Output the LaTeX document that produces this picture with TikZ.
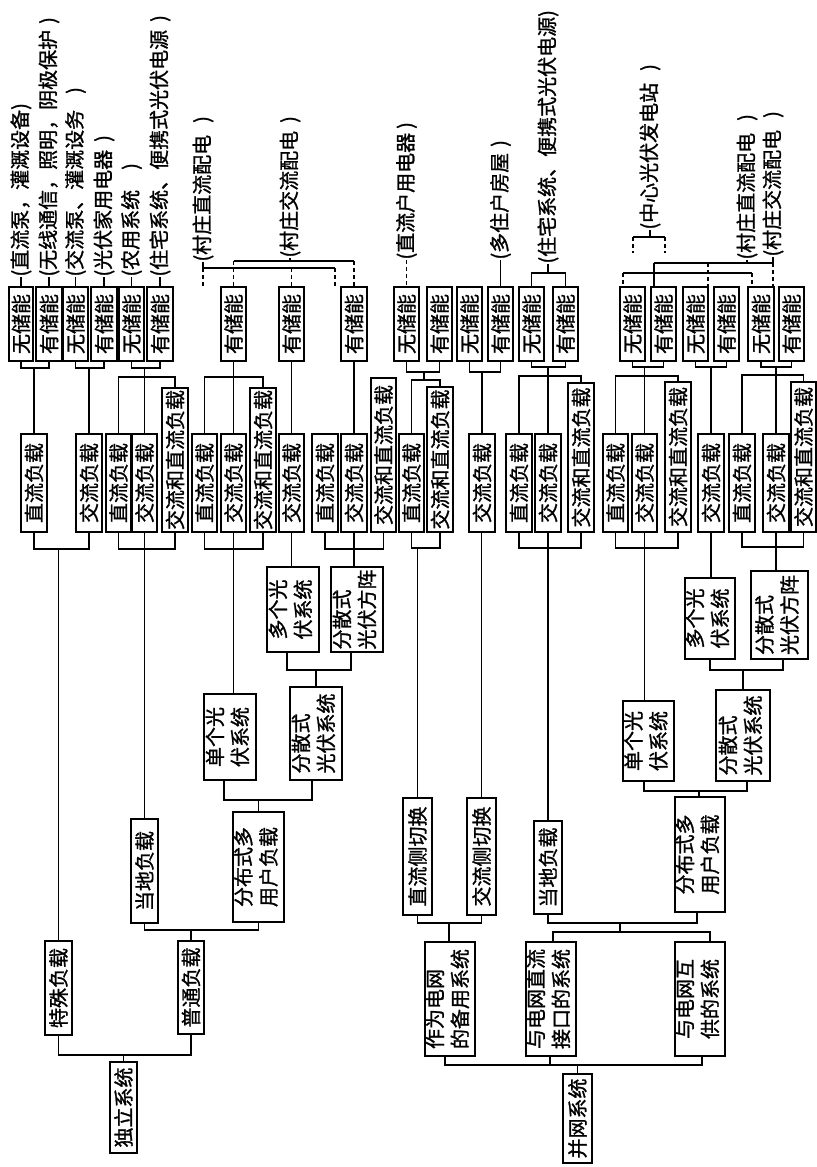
\documentclass[tikz,border=0pt]{standalone}
\usepackage{fontspec}
\setmainfont{Noto Sans CJK SC}[FakeBold=1.2]
\usepackage{graphicx}
\tikzset{
  bx/.style={draw, line width=1pt, inner sep=0pt, outer sep=0pt, fill=white, font=\fontsize{10}{12.5}\selectfont},
  lbl/.style={rotate=90, anchor=west, inner sep=0pt, font=\fontsize{10}{12.5}\selectfont},
  ln/.style={line width=0.85pt},
  dl/.style={line width=0.85pt, dash pattern=on 2pt off 1.5pt},
}
\newcommand\Bx[6]{%
  \pgfmathsetmacro\bxw{(#3-#2)*0.5}%
  \pgfmathsetmacro\bxh{(#5-#4)*0.5}%
  \node[bx, minimum width=\bxw pt, minimum height=\bxh pt] (#1) at ({(#2+#3)/2},{(#4+#5)/2}) {\rotatebox{90}{#6}};}
\newcommand\Tl[2]{\begin{tabular}{@{}l@{}}#1\\#2\end{tabular}}
\begin{document}
\begin{tikzpicture}[x=0.5pt, y=-0.5pt]
\fill[white] (0,0) rectangle (817,1167);
\useasboundingbox (0,0) rectangle (817,1167);

% ---------- top row: storage boxes ----------
\Bx{T1}{9}{33}{287}{361}{无储能}
\Bx{T2}{36}{62}{287}{361}{有储能}
\Bx{T3}{63}{88}{287}{361}{无储能}
\Bx{T4}{91}{117}{287}{361}{有储能}
\Bx{T5}{119}{144}{287}{361}{无储能}
\Bx{T6}{147}{173}{287}{361}{有储能}
\Bx{T7}{221}{246}{287}{361}{有储能}
\Bx{T8}{279}{304}{287}{361}{有储能}
\Bx{T9}{341}{367}{287}{361}{有储能}
\Bx{T10}{394}{419}{287}{361}{无储能}
\Bx{T11}{427}{452}{287}{361}{有储能}
\Bx{T12}{457}{482}{287}{361}{无储能}
\Bx{T13}{488}{513}{287}{361}{有储能}
\Bx{T14}{519}{544}{287}{361}{无储能}
\Bx{T15}{553}{578}{287}{361}{有储能}
\Bx{T16}{620}{645}{287}{361}{无储能}
\Bx{T17}{651}{676}{287}{361}{有储能}
\Bx{T18}{683}{708}{287}{361}{无储能}
\Bx{T19}{714}{739}{287}{361}{有储能}
\Bx{T20}{748}{774}{287}{361}{无储能}
\Bx{T21}{779}{804}{287}{361}{有储能}

% ---------- load row ----------
\Bx{M1}{21}{47}{434}{532}{直流负载}
\Bx{M2}{76}{102}{434}{532}{交流负载}
\Bx{M3}{106}{131}{434}{532}{直流负载}
\Bx{M4}{132}{157}{434}{532}{交流负载}
\Bx{M5}{162}{188}{388}{532}{交流和直流负载}
\Bx{M6}{192}{217}{434}{532}{直流负载}
\Bx{M7}{221}{246}{434}{532}{交流负载}
\Bx{M8}{250}{276}{388}{532}{交流和直流负载}
\Bx{M9}{279}{304}{434}{532}{交流负载}
\Bx{M10}{312}{338}{434}{532}{直流负载}
\Bx{M11}{341}{367}{434}{532}{交流负载}
\Bx{M12}{371}{396}{378}{532}{交流和直流负载}
\Bx{M13}{399}{424}{434}{532}{直流负载}
\Bx{M14}{427}{453}{387}{532}{交流和直流负载}
\Bx{M15}{469}{495}{434}{532}{交流负载}
\Bx{M16}{506}{532}{434}{532}{直流负载}
\Bx{M17}{535}{561}{434}{532}{交流负载}
\Bx{M18}{568}{594}{383}{532}{交流和直流负载}
\Bx{M19}{603}{628}{434}{532}{直流负载}
\Bx{M20}{632}{657}{434}{532}{交流负载}
\Bx{M21}{665}{691}{382}{532}{交流和直流负载}
\Bx{M22}{698}{724}{434}{532}{交流负载}
\Bx{M23}{729}{755}{434}{532}{直流负载}
\Bx{M24}{763}{789}{434}{532}{交流负载}
\Bx{M25}{791}{816}{382}{532}{交流和直流负载}

% ---------- independent system ----------
\Bx{A1}{267}{319}{567}{652}{\Tl{多个光}{伏系统}}
\Bx{A2}{331}{383}{567}{652}{\Tl{分散式}{光伏方阵}}
\Bx{A3}{204}{256}{694}{780}{\Tl{单个光}{伏系统}}
\Bx{A4}{290}{342}{687}{780}{\Tl{分散式}{光伏系统}}
\Bx{A5}{131}{158}{819}{923}{当地负载}
\Bx{A6}{233}{284}{812}{922}{\Tl{分布式多}{用户负载}}
\Bx{A7}{45}{72}{941}{1035}{特殊负载}
\Bx{A8}{178}{204}{941}{1034}{普通负载}
\Bx{A9}{110}{137}{1062}{1153}{独立系统}

% ---------- grid-connected system ----------
\Bx{B1}{685}{735}{578}{659}{\Tl{多个光}{伏系统}}
\Bx{B2}{751}{808}{571}{659}{\Tl{分散式}{光伏方阵}}
\Bx{B3}{623}{674}{701}{781}{\Tl{单个光}{伏系统}}
\Bx{B4}{716}{770}{690}{781}{\Tl{分散式}{光伏系统}}
\Bx{B5}{403}{432}{798}{915}{直流侧切换}
\Bx{B6}{467}{496}{798}{915}{交流侧切换}
\Bx{B7}{534}{562}{821}{914}{当地负载}
\Bx{B8}{675}{725}{797}{912}{\Tl{分布式多}{用户负载}}
\Bx{B9}{425}{475}{942}{1056}{\Tl{作为电网}{的备用系统}}
\Bx{B10}{526}{576}{942}{1056}{\Tl{与电网直流}{接口的系统}}
\Bx{B11}{675}{725}{942}{1056}{\Tl{与电网互}{供的系统}}
\Bx{B12}{563}{592}{1074}{1163}{并网系统}

% ---------- leaf labels ----------
\node[lbl] (L1) at (21,277) {(直流泵，灌溉设备)};
\node[lbl] (L2) at (49,277) {(无线通信，照明，阴极保护\hspace{3pt})};
\node[lbl] (L3) at (75.5,277) {(交流泵、灌溉设务\hspace{8pt})};
\node[lbl] (L4) at (104,277) {(光伏家用电器\hspace{4pt})};
\node[lbl] (L5) at (131.5,277) {(农用系统\hspace{10pt})};
\node[lbl] (L6) at (160,277) {(住宅系统、便携式光伏电源\hspace{4pt})};
\node[lbl] (L7) at (203,262) {(村庄直流配电\hspace{6pt})};
\node[lbl] (L8) at (290,258) {(村庄交流配电\hspace{4pt})};
\node[lbl] (L9) at (406.5,260) {(直流户用电器\hspace{2pt})};
\node[lbl] (L10) at (500.5,260) {(多住户房屋\hspace{3pt})};
\node[lbl] (L11) at (548,264) {(住宅系统、便携式光伏电源)};
\node[lbl] (L12) at (650,230) {(中心光伏发电站\hspace{6pt})};
\node[lbl] (L13) at (747,260) {(村庄直流配电\hspace{6pt})};
\node[lbl] (L14) at (773,257) {(村庄交流配电\hspace{6pt})};

% ---------- connectors: independent system ----------
\draw[ln] (A9.north) -- (A9.north |- 0,1055);
\draw[ln] (A7.south) -- (A7.south |- 0,1055) -- (A8.south |- 0,1055) -- (A8.south);
\draw[ln] (A7.north) -- (A7.north |- 0,549);
\draw[ln] (M1.south) -- (M1.south |- 0,549) -- (M2.south |- 0,549) -- (M2.south);
\draw[ln] (A8.north) -- (A8.north |- 0,930);
\draw[ln] (A5.south) -- (A5.south |- 0,930) -- (A6.south |- 0,930) -- (A6.south);
\draw[ln] (A5.north) -- (A5.north |- 0,549);
\draw[ln] (M3.south) -- (M3.south |- 0,549) -- (M5.south |- 0,549) -- (M5.south);
\draw[ln] (M4.south) -- (M4.south |- 0,549);
\draw[ln] (A6.north) -- (A6.north |- 0,800);
\draw[ln] (A3.south -| 224,0) -- (224,800) -- (312,800) -- (A4.south -| 312,0);
\draw[ln] (A3.north -| M7.south) -- (M7.south);
\draw[ln] (M6.south) -- (M6.south |- 0,549) -- (M8.south |- 0,549) -- (M8.south);
\draw[ln] (A4.north) -- (A4.north |- 0,670);
\draw[ln] (A1.south -| 287,0) -- (287,670) -- (351,670) -- (A2.south -| 351,0);
\draw[ln] (A1.north -| M9.south) -- (M9.south);
\draw[ln] (A2.north -| M11.south) -- (M11.south);
\draw[ln] (M10.south) -- (M10.south |- 0,549) -- (M12.south |- 0,549) -- (M12.south);

\draw[ln] (M1.north) -- (M1.north |- 0,368);
\draw[ln] (T1.south) -- (T1.south |- 0,368) -- (T2.south |- 0,368) -- (T2.south);
\draw[ln] (M2.north) -- (M2.north |- 0,368);
\draw[ln] (T3.south) -- (T3.south |- 0,368) -- (T4.south |- 0,368) -- (T4.south);
\draw[ln] (M3.north) -- (M3.north |- 0,377) -- (M5.north |- 0,377) -- (M5.north);
\draw[ln] (M4.north) -- (M4.north |- 0,368);
\draw[ln] (T5.south) -- (T5.south |- 0,368) -- (T6.south |- 0,368) -- (T6.south);
\draw[ln] (M6.north) -- (M6.north |- 0,377) -- (M8.north |- 0,377) -- (M8.north);
\draw[ln] (M7.north) -- (T7.south);
\draw[ln] (M9.north) -- (T8.south);
\draw[ln] (M11.north) -- (T9.south);

\draw[ln] (L1.west) -- (T1.north);
\draw[ln] (L2.west) -- (T2.north);
\draw[ln] (L3.west) -- (T3.north);
\draw[ln] (L4.west) -- (T4.north);
\draw[ln] (L5.west) -- (T5.north);
\draw[ln] (L6.west) -- (T6.north);

% village distribution (independent)
\draw[ln] (L7.west) -- (L7.west |- 0,268) -- (335,268);
\draw[ln] (L8.west) -- (L8.west |- 0,261);
\draw[ln] (T7.north |- 0,261) -- (T9.north |- 0,261);
\draw[dl] (L7.west |- 0,268) -- (L7.west |- T7.north);
\draw[dl] (335,268) -- (T9.north -| 335,0);
\draw[dl] (T7.north |- 0,261) -- (T7.north);
\draw[dl] (T8.north |- 0,268) -- (T8.north);
\draw[dl] (T9.north |- 0,261) -- (T9.north);

% ---------- connectors: grid-connected system ----------
\draw[ln] (B12.north) -- (B12.north |- 0,1065);
\draw[ln] (B9.south -| 445,0) -- (445,1065) -- (702,1065) -- (B11.south -| 702,0);
\draw[ln] (B10.south -| 550,0) -- (550,1065);
\draw[ln] (B9.north -| 449,0) -- (449,923);
\draw[ln] (B5.south) -- (B5.south |- 0,923) -- (B6.south |- 0,923) -- (B6.south);
\draw[ln] (B10.north -| 553,0) -- (553,932) -- (710,932) -- (B11.north -| 710,0);
\draw[ln] (620,932) -- (620,923);
\draw[ln] (B7.south) -- (B7.south |- 0,923) -- (697,923) -- (B8.south -| 697,0);
\draw[ln] (B5.north) -- (B5.north |- 0,548);
\draw[ln] (M13.south) -- (M13.south |- 0,548) -- (M14.south |- 0,548) -- (M14.south);
\draw[ln] (B6.north) -- (B6.north |- M15.south);
\draw[ln] (B7.north) -- (B7.north |- 0,548);
\draw[ln] (M16.south) -- (M16.south |- 0,548) -- (M18.south |- 0,548) -- (M18.south);
\draw[ln] (M17.south) -- (M17.south |- 0,548);
\draw[ln] (B8.north -| 699,0) -- (699,791);
\draw[ln] (B3.south -| 644,0) -- (644,791) -- (747,791) -- (B4.south -| 747,0);
\draw[ln] (B3.north -| M20.south) -- (M20.south);
\draw[ln] (M19.south) -- (M19.south |- 0,548) -- (M21.south |- 0,548) -- (M21.south);
\draw[ln] (B4.north) -- (B4.north |- 0,670);
\draw[ln] (B1.south -| 710,0) -- (710,670) -- (783,670) -- (B2.south -| 783,0);
\draw[ln] (B1.north -| M22.south) -- (M22.south);
\draw[ln] (B2.north -| M24.south) -- (M24.south);
\draw[ln] (M23.south) -- (M23.south |- 0,547) -- (M25.south |- 0,547) -- (M25.south);

\draw[ln] (M13.north) -- (M13.north |- 0,380) -- (M14.north |- 0,380) -- (M14.north);
\draw[ln] (424,380) -- (424,372);
\draw[ln] (T10.south) -- (T10.south |- 0,372) -- (T11.south |- 0,372) -- (T11.south);
\draw[ln] (M15.north) -- (M15.north |- 0,372);
\draw[ln] (T12.south) -- (T12.south |- 0,372) -- (T13.south |- 0,372) -- (T13.south);
\draw[ln] (M16.north) -- (M16.north |- 0,376) -- (M18.north |- 0,376) -- (M18.north);
\draw[ln] (M17.north) -- (M17.north |- 0,367);
\draw[ln] (T14.south) -- (T14.south |- 0,367) -- (T15.south |- 0,367) -- (T15.south);
\draw[ln] (M19.north) -- (M19.north |- 0,376) -- (M21.north |- 0,376) -- (M21.north);
\draw[ln] (M20.north) -- (M20.north |- 0,367);
\draw[ln] (T16.south) -- (T16.south |- 0,367) -- (T17.south |- 0,367) -- (T17.south);
\draw[ln] (M22.north) -- (M22.north |- 0,367);
\draw[ln] (T18.south) -- (T18.south |- 0,367) -- (T19.south |- 0,367) -- (T19.south);
\draw[ln] (M23.north) -- (M23.north |- 0,375) -- (M25.north |- 0,375) -- (M25.north);
\draw[ln] (M24.north) -- (M24.north |- 0,367);
\draw[ln] (T20.south) -- (T20.south |- 0,367) -- (T21.south |- 0,367) -- (T21.south);

\draw[dl] (L9.west) -- (T10.north);
\draw[ln] (L10.west) -- (T13.north);
\draw[ln] (L11.west) -- (L11.west |- 0,273);
\draw[ln] (T14.north) -- (T14.north |- 0,273) -- (T15.north |- 0,273) -- (T15.north);

% central plant and village distribution (grid)
\draw[ln] (L12.west) -- (L12.west |- 0,237);
\draw[ln] (633,237) -- (665,237);
\draw[dl] (633,237) -- (633,253);
\draw[dl] (665,237) -- (665,253);
\draw[ln] (654,263) -- (773,263);
\draw[ln] (623,273) -- (752,273);
\draw[ln] (654,263) -- (T17.north -| 654,0);
\draw[dl] (623,273) -- (T16.north -| 623,0);
\draw[dl] (708,263) -- (T18.north -| 708,0);
\draw[dl] (752,273) -- (T20.north -| 752,0);
\draw[dl] (773,263) -- (T20.north -| 773,0);
\draw[ln] (L13.west) -- (L13.west |- 0,263);
\draw[ln] (L14.west) -- (L14.west |- 0,263);
\end{tikzpicture}
\end{document}
